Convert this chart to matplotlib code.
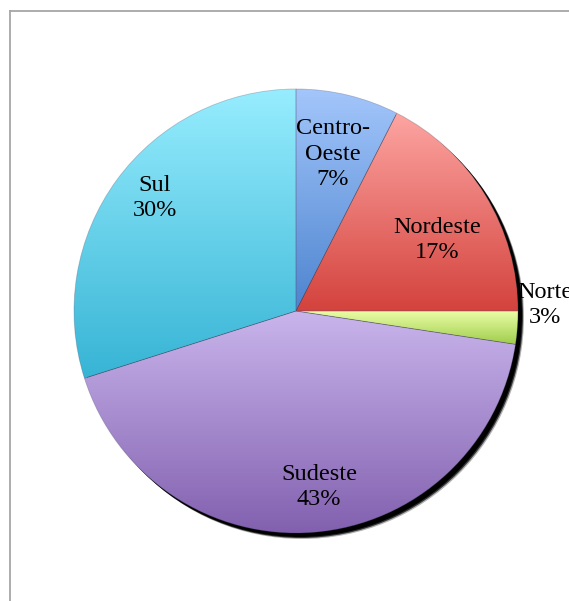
import numpy as np
import matplotlib
matplotlib.use("Agg")
import matplotlib.pyplot as plt
from matplotlib.colors import LinearSegmentedColormap
from matplotlib.patches import Circle
from matplotlib.lines import Line2D

# ---- data ----
regions = ["Centro-\nOeste", "Nordeste", "Norte", "Sudeste", "Sul"]
shares = [7.5, 17.5, 2.4, 42.7, 29.9]
pct_labels = ["7%", "17%", "3%", "43%", "30%"]
top_colors = ["#a3c6fb", "#fda5a2", "#ecffa8", "#c9b5ec", "#97edfe"]
bottom_colors = ["#4d84cf", "#d4423d", "#a0cd4c", "#8260af", "#37b4d5"]

W, H = 569, 601
fig = plt.figure(figsize=(W / 100, H / 100), dpi=100)
ax = fig.add_axes([0, 0, 1, 1])

cx, cy, R = 296, H - 311, 222

# shadow
for off, a in [((6, -6), 0.3), ((5, -5), 0.7), ((4, -4), 1.0)]:
    ax.add_patch(Circle((cx + off[0], cy + off[1]), R, facecolor="black",
                        edgecolor="none", alpha=a, zorder=1))

wedges, _ = ax.pie(shares, startangle=90, counterclock=False, radius=R,
                   center=(cx, cy), frame=True,
                   wedgeprops=dict(linewidth=0.6, edgecolor=(0.3, 0.3, 0.4, 0.3)))

for w, tc, bc in zip(wedges, top_colors, bottom_colors):
    w.set_zorder(3)
    w.set_facecolor("none")
    t = np.radians(np.linspace(w.theta1, w.theta2, 200))
    xs = np.concatenate([[cx], cx + R * np.cos(t)])
    ys = np.concatenate([[cy], cy + R * np.sin(t)])
    cmap = LinearSegmentedColormap.from_list("g", [bc, tc])
    grad = np.linspace(0, 1, 256).reshape(-1, 1)
    im = ax.imshow(grad, cmap=cmap, origin="lower", aspect="auto",
                   extent=[xs.min(), xs.max(), ys.min(), ys.max()],
                   zorder=2, interpolation="bilinear")
    im.set_clip_path(w)

ax.set_xlim(0, W)
ax.set_ylim(0, H)
ax.set_aspect("auto")
ax.axis("off")

# labels (block centers in pixel coordinates)
label_pos = [(333, 154), (437, 240), (545, 305), (319, 487), (155, 198)]
for name, pct, (lx, ly) in zip(regions, pct_labels, label_pos):
    ax.text(lx, H - ly, f"{name}\n{pct}", ha="center", va="center",
            fontsize=17.5, family="Liberation Serif", linespacing=1.3,
            color="black", zorder=5)

# outer frame lines
fig.add_artist(Line2D([9.5 / W, 9.5 / W], [0, 1 - 11 / H], color="#a6a6a6", lw=1.3))
fig.add_artist(Line2D([9.5 / W, 1], [1 - 11 / H, 1 - 11 / H], color="#a6a6a6", lw=1.3))

fig.savefig("out.png", dpi=100)
